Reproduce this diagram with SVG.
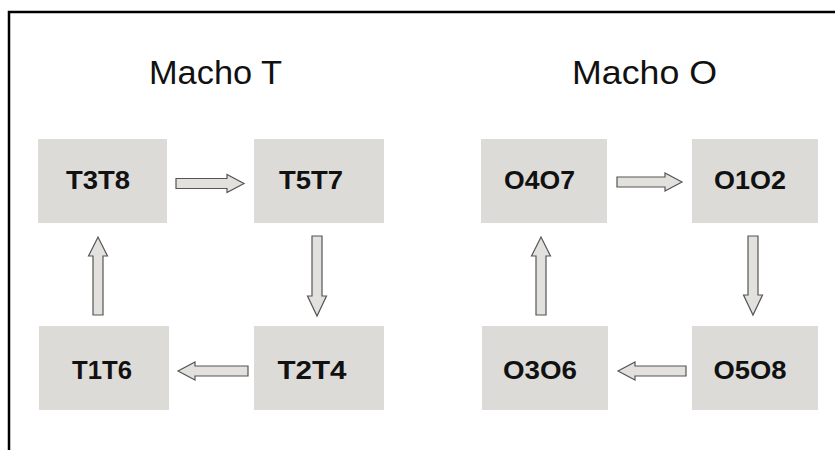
<svg xmlns="http://www.w3.org/2000/svg" width="835" height="450" viewBox="0 0 835 450">
<style>
.frame{fill:none;stroke:#000;stroke-width:2.5}
.box{fill:#dcdbd8}
.lbl{font-family:"Liberation Sans",Arial,sans-serif;font-weight:bold;font-size:25px;fill:#111;text-anchor:middle}
.title{font-family:"Liberation Sans",Arial,sans-serif;font-size:33px;fill:#111;text-anchor:middle}
.arr{fill:#e2e1de;stroke:#555;stroke-width:1.2;stroke-linejoin:miter}
</style>
<rect width="835" height="450" fill="#fff"/>
<path class="frame" d="M9,450 V12 H835"/>
<text class="title" x="215.5" y="84" textLength="133" lengthAdjust="spacingAndGlyphs">Macho T</text>
<text class="title" x="644.5" y="84" textLength="145" lengthAdjust="spacingAndGlyphs">Macho O</text>
<g id="T3T8"><rect class="box" x="38" y="139" width="129" height="84"/><text class="lbl" x="98" y="189" textLength="64" lengthAdjust="spacingAndGlyphs">T3T8</text></g>
<g id="T5T7"><rect class="box" x="254" y="139" width="130" height="84"/><text class="lbl" x="311" y="189" textLength="64" lengthAdjust="spacingAndGlyphs">T5T7</text></g>
<g id="T1T6"><rect class="box" x="39" y="326" width="130" height="84"/><text class="lbl" x="102" y="379" textLength="60" lengthAdjust="spacingAndGlyphs">T1T6</text></g>
<g id="T2T4"><rect class="box" x="254" y="326" width="130" height="84"/><text class="lbl" x="312" y="379" textLength="69" lengthAdjust="spacingAndGlyphs">T2T4</text></g>
<g id="O4O7"><rect class="box" x="481" y="139" width="126" height="84"/><text class="lbl" x="539.5" y="189" textLength="71" lengthAdjust="spacingAndGlyphs">O4O7</text></g>
<g id="O1O2"><rect class="box" x="692" y="139" width="126" height="84"/><text class="lbl" x="750" y="189" textLength="72" lengthAdjust="spacingAndGlyphs">O1O2</text></g>
<g id="O3O6"><rect class="box" x="482" y="326" width="126" height="84"/><text class="lbl" x="540" y="379" textLength="74" lengthAdjust="spacingAndGlyphs">O3O6</text></g>
<g id="O5O8"><rect class="box" x="692" y="326" width="126" height="84"/><text class="lbl" x="750" y="379" textLength="73" lengthAdjust="spacingAndGlyphs">O5O8</text></g>
<g id="connectors">
<polygon class="arr" points="176,178.5 227,178.5 227,174.5 244,183.5 227,192.5 227,188.5 176,188.5"/>
<polygon class="arr" points="312,236 322,236 322,296 326.5,296 317,316 307.5,296 312,296"/>
<polygon class="arr" points="248,366 195,366 195,362 178,371 195,380 195,376 248,376"/>
<polygon class="arr" points="93,315 93,256 88.5,256 98,237 107.5,256 103,256 103,315"/>
<polygon class="arr" points="617,177 665,177 665,173 682,182 665,191 665,187 617,187"/>
<polygon class="arr" points="748,236 758,236 758,295 762.5,295 753,315 743.5,295 748,295"/>
<polygon class="arr" points="686,366 635,366 635,362 618,371 635,380 635,376 686,376"/>
<polygon class="arr" points="536,315 536,256 531.5,256 541,237 550.5,256 546,256 546,315"/>
</g>
</svg>
